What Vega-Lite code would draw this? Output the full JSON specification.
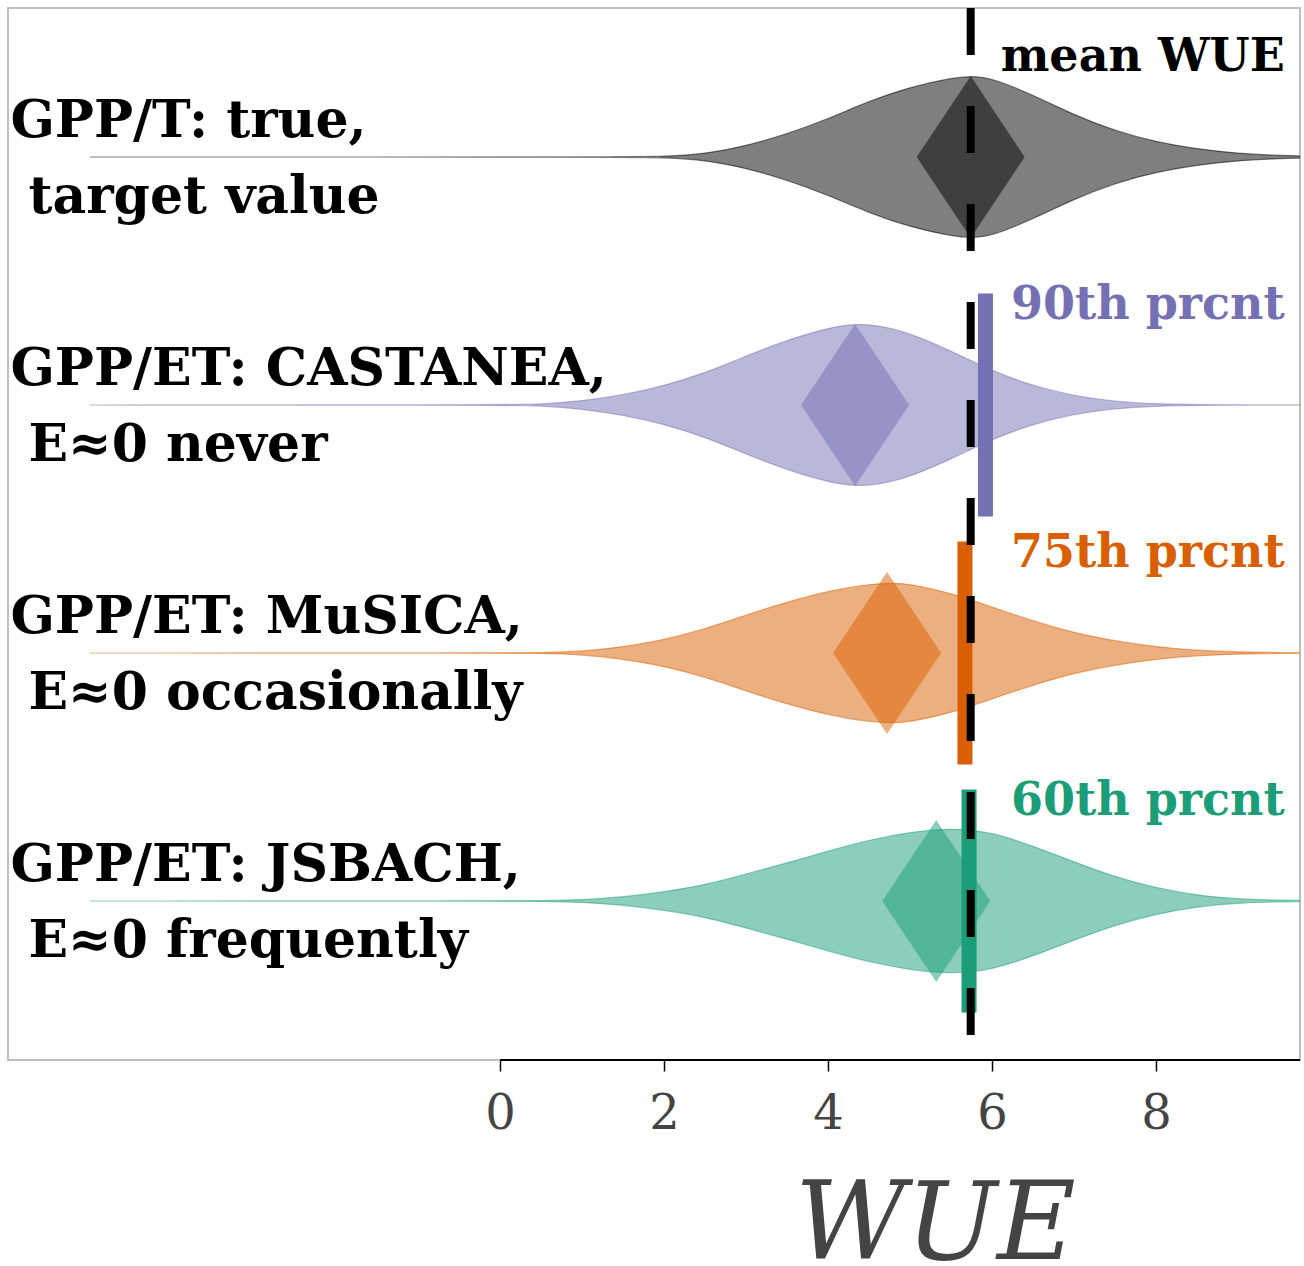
{
  "$schema": "https://vega.github.io/schema/vega-lite/v6.json",
  "width": 1292,
  "height": 1052,
  "autosize": {"type": "none"},
  "padding": {"left": 8, "top": 8, "right": 4, "bottom": 206},
  "background": "white",
  "config": {"view": {"stroke": "#bfbfbf", "strokeWidth": 2}, "font": "DejaVu Serif"},
  "datasets": {
    "violins": [
      {"g": "T", "wue": -5, "dens": 0}, {"g": "T", "wue": 1.5, "dens": 0}, {"g": "T", "wue": 2.0, "dens": 0.005}, {"g": "T", "wue": 2.5, "dens": 0.03}, {"g": "T", "wue": 3.0, "dens": 0.11}, {"g": "T", "wue": 3.5, "dens": 0.23}, {"g": "T", "wue": 4.0, "dens": 0.38}, {"g": "T", "wue": 4.5, "dens": 0.56}, {"g": "T", "wue": 5.0, "dens": 0.70}, {"g": "T", "wue": 5.5, "dens": 0.79}, {"g": "T", "wue": 5.75, "dens": 0.81}, {"g": "T", "wue": 6.0, "dens": 0.79}, {"g": "T", "wue": 6.5, "dens": 0.62}, {"g": "T", "wue": 7.0, "dens": 0.42}, {"g": "T", "wue": 7.5, "dens": 0.26}, {"g": "T", "wue": 8.0, "dens": 0.15}, {"g": "T", "wue": 8.5, "dens": 0.08}, {"g": "T", "wue": 9.0, "dens": 0.035}, {"g": "T", "wue": 9.5, "dens": 0.015}, {"g": "T", "wue": 10.0, "dens": 0.005},
      {"g": "CAS", "wue": -5, "dens": 0}, {"g": "CAS", "wue": 0, "dens": 0.002}, {"g": "CAS", "wue": 0.5, "dens": 0.006}, {"g": "CAS", "wue": 1.0, "dens": 0.04}, {"g": "CAS", "wue": 1.5, "dens": 0.10}, {"g": "CAS", "wue": 2.0, "dens": 0.19}, {"g": "CAS", "wue": 2.5, "dens": 0.32}, {"g": "CAS", "wue": 3.0, "dens": 0.49}, {"g": "CAS", "wue": 3.5, "dens": 0.65}, {"g": "CAS", "wue": 4.0, "dens": 0.77}, {"g": "CAS", "wue": 4.3, "dens": 0.81}, {"g": "CAS", "wue": 4.6, "dens": 0.80}, {"g": "CAS", "wue": 5.0, "dens": 0.72}, {"g": "CAS", "wue": 5.5, "dens": 0.54}, {"g": "CAS", "wue": 6.0, "dens": 0.34}, {"g": "CAS", "wue": 6.5, "dens": 0.19}, {"g": "CAS", "wue": 7.0, "dens": 0.09}, {"g": "CAS", "wue": 7.5, "dens": 0.035}, {"g": "CAS", "wue": 8.0, "dens": 0.01}, {"g": "CAS", "wue": 8.5, "dens": 0.003}, {"g": "CAS", "wue": 9.0, "dens": 0.001}, {"g": "CAS", "wue": 10.0, "dens": 0},
      {"g": "MUS", "wue": -5, "dens": 0}, {"g": "MUS", "wue": 0, "dens": 0.001}, {"g": "MUS", "wue": 0.5, "dens": 0.003}, {"g": "MUS", "wue": 1.0, "dens": 0.015}, {"g": "MUS", "wue": 1.5, "dens": 0.06}, {"g": "MUS", "wue": 2.0, "dens": 0.13}, {"g": "MUS", "wue": 2.5, "dens": 0.24}, {"g": "MUS", "wue": 3.0, "dens": 0.38}, {"g": "MUS", "wue": 3.5, "dens": 0.51}, {"g": "MUS", "wue": 4.0, "dens": 0.62}, {"g": "MUS", "wue": 4.5, "dens": 0.69}, {"g": "MUS", "wue": 4.8, "dens": 0.70}, {"g": "MUS", "wue": 5.0, "dens": 0.69}, {"g": "MUS", "wue": 5.5, "dens": 0.60}, {"g": "MUS", "wue": 6.0, "dens": 0.46}, {"g": "MUS", "wue": 6.5, "dens": 0.32}, {"g": "MUS", "wue": 7.0, "dens": 0.20}, {"g": "MUS", "wue": 7.5, "dens": 0.12}, {"g": "MUS", "wue": 8.0, "dens": 0.06}, {"g": "MUS", "wue": 8.5, "dens": 0.025}, {"g": "MUS", "wue": 9.0, "dens": 0.01}, {"g": "MUS", "wue": 9.5, "dens": 0.004}, {"g": "MUS", "wue": 10.0, "dens": 0.002},
      {"g": "JSB", "wue": -5, "dens": 0}, {"g": "JSB", "wue": 0, "dens": 0.001}, {"g": "JSB", "wue": 0.5, "dens": 0.003}, {"g": "JSB", "wue": 1.0, "dens": 0.01}, {"g": "JSB", "wue": 1.5, "dens": 0.04}, {"g": "JSB", "wue": 2.0, "dens": 0.09}, {"g": "JSB", "wue": 2.5, "dens": 0.16}, {"g": "JSB", "wue": 3.0, "dens": 0.27}, {"g": "JSB", "wue": 3.5, "dens": 0.38}, {"g": "JSB", "wue": 4.0, "dens": 0.50}, {"g": "JSB", "wue": 4.5, "dens": 0.61}, {"g": "JSB", "wue": 5.0, "dens": 0.69}, {"g": "JSB", "wue": 5.5, "dens": 0.73}, {"g": "JSB", "wue": 6.0, "dens": 0.69}, {"g": "JSB", "wue": 6.5, "dens": 0.55}, {"g": "JSB", "wue": 7.0, "dens": 0.39}, {"g": "JSB", "wue": 7.5, "dens": 0.24}, {"g": "JSB", "wue": 8.0, "dens": 0.13}, {"g": "JSB", "wue": 8.5, "dens": 0.055}, {"g": "JSB", "wue": 9.0, "dens": 0.02}, {"g": "JSB", "wue": 9.5, "dens": 0.007}, {"g": "JSB", "wue": 10.0, "dens": 0.003}
    ],
    "stats": [
      {"g": "T", "line1": "GPP/T: true,", "line2": "target value", "mean": 5.74, "tag": "mean WUE"},
      {"g": "CAS", "line1": "GPP/ET: CASTANEA,", "line2": "E\u22480 never", "mean": 4.33, "pct": 5.92, "tag": "90th prcnt"},
      {"g": "MUS", "line1": "GPP/ET: MuSICA,", "line2": "E\u22480 occasionally", "mean": 4.72, "pct": 5.67, "tag": "75th prcnt"},
      {"g": "JSB", "line1": "GPP/ET: JSBACH,", "line2": "E\u22480 frequently", "mean": 5.32, "pct": 5.72, "tag": "60th prcnt"}
    ],
    "ref": [{"mean_wue": 5.74}]
  },
  "resolve": {"scale": {"y": "independent"}},
  "layer": [
    {
      "data": {"name": "violins"},
      "transform": [{"filter": {"field": "g", "equal": "T"}}],
      "mark": {"type": "area", "interpolate": "basis", "clip": true, "fill": "#000000", "fillOpacity": 0.5, "stroke": "#000000", "strokeOpacity": 0.5, "strokeWidth": 1.2},
      "encoding": {
        "x": {"field": "wue", "type": "quantitative", "title": "WUE", "scale": {"domain": [-6, 9.756], "nice": false, "zero": false},
          "axis": {"values": [0, 2, 4, 6, 8], "domain": false, "grid": false, "ticks": true, "tickSize": 11, "tickWidth": 1.5, "tickColor": "#000000", "labelFont": "DejaVu Serif", "labelFontSize": 48, "labelColor": "#444444", "labelBaseline": "alphabetic", "labelPadding": 57, "labelFlush": false, "labelOverlap": false, "title": "WUE", "titleFont": "DejaVu Serif", "titleFontStyle": "italic", "titleFontWeight": "normal", "titleFontSize": 108, "titleColor": "#444444", "titleX": 927, "titleY": 198, "titleBaseline": "alphabetic", "titleAlign": "center"}},
        "y": {"field": "dens", "type": "quantitative", "stack": "center", "scale": {"domain": [-4.11, 1.15], "nice": false, "zero": false}, "axis": null},
        "detail": {"field": "g"}
      }
    },
    {
      "data": {"name": "violins"},
      "transform": [{"filter": {"field": "g", "equal": "CAS"}}],
      "mark": {"type": "area", "interpolate": "basis", "clip": true, "fill": "#7570b3", "fillOpacity": 0.5, "stroke": "#7570b3", "strokeOpacity": 0.5, "strokeWidth": 1.2},
      "encoding": {
        "x": {"field": "wue", "type": "quantitative", "title": "WUE", "scale": {"domain": [-6, 9.756], "nice": false, "zero": false},
          "axis": {"values": [0, 2, 4, 6, 8], "domain": false, "grid": false, "ticks": true, "tickSize": 11, "tickWidth": 1.5, "tickColor": "#000000", "labelFont": "DejaVu Serif", "labelFontSize": 48, "labelColor": "#444444", "labelBaseline": "alphabetic", "labelPadding": 57, "labelFlush": false, "labelOverlap": false, "title": "WUE", "titleFont": "DejaVu Serif", "titleFontStyle": "italic", "titleFontWeight": "normal", "titleFontSize": 108, "titleColor": "#444444", "titleX": 927, "titleY": 198, "titleBaseline": "alphabetic", "titleAlign": "center"}},
        "y": {"field": "dens", "type": "quantitative", "stack": "center", "scale": {"domain": [-2.87, 2.39], "nice": false, "zero": false}, "axis": null},
        "detail": {"field": "g"}
      }
    },
    {
      "data": {"name": "violins"},
      "transform": [{"filter": {"field": "g", "equal": "MUS"}}],
      "mark": {"type": "area", "interpolate": "basis", "clip": true, "fill": "#d95f02", "fillOpacity": 0.5, "stroke": "#d95f02", "strokeOpacity": 0.5, "strokeWidth": 1.2},
      "encoding": {
        "x": {"field": "wue", "type": "quantitative", "title": "WUE", "scale": {"domain": [-6, 9.756], "nice": false, "zero": false},
          "axis": {"values": [0, 2, 4, 6, 8], "domain": false, "grid": false, "ticks": true, "tickSize": 11, "tickWidth": 1.5, "tickColor": "#000000", "labelFont": "DejaVu Serif", "labelFontSize": 48, "labelColor": "#444444", "labelBaseline": "alphabetic", "labelPadding": 57, "labelFlush": false, "labelOverlap": false, "title": "WUE", "titleFont": "DejaVu Serif", "titleFontStyle": "italic", "titleFontWeight": "normal", "titleFontSize": 108, "titleColor": "#444444", "titleX": 927, "titleY": 198, "titleBaseline": "alphabetic", "titleAlign": "center"}},
        "y": {"field": "dens", "type": "quantitative", "stack": "center", "scale": {"domain": [-1.685, 3.575], "nice": false, "zero": false}, "axis": null},
        "detail": {"field": "g"}
      }
    },
    {
      "data": {"name": "violins"},
      "transform": [{"filter": {"field": "g", "equal": "JSB"}}],
      "mark": {"type": "area", "interpolate": "basis", "clip": true, "fill": "#1b9e77", "fillOpacity": 0.5, "stroke": "#1b9e77", "strokeOpacity": 0.5, "strokeWidth": 1.2},
      "encoding": {
        "x": {"field": "wue", "type": "quantitative", "title": "WUE", "scale": {"domain": [-6, 9.756], "nice": false, "zero": false},
          "axis": {"values": [0, 2, 4, 6, 8], "domain": false, "grid": false, "ticks": true, "tickSize": 11, "tickWidth": 1.5, "tickColor": "#000000", "labelFont": "DejaVu Serif", "labelFontSize": 48, "labelColor": "#444444", "labelBaseline": "alphabetic", "labelPadding": 57, "labelFlush": false, "labelOverlap": false, "title": "WUE", "titleFont": "DejaVu Serif", "titleFontStyle": "italic", "titleFontWeight": "normal", "titleFontSize": 108, "titleColor": "#444444", "titleX": 927, "titleY": 198, "titleBaseline": "alphabetic", "titleAlign": "center"}},
        "y": {"field": "dens", "type": "quantitative", "stack": "center", "scale": {"domain": [-0.43, 4.83], "nice": false, "zero": false}, "axis": null},
        "detail": {"field": "g"}
      }
    },
    {
      "layer": [
        {
          "data": {"name": "stats"},
          "mark": {"type": "point", "shape": "M-1,0L0,-1.5L1,0L0,1.5Z", "size": 11664, "filled": true, "opacity": 0.5, "strokeWidth": 0},
          "encoding": {
            "x": {"field": "mean", "type": "quantitative", "title": "WUE", "scale": {"domain": [-6, 9.756], "nice": false, "zero": false},
              "axis": {"values": [0, 2, 4, 6, 8], "domain": false, "grid": false, "ticks": true, "tickSize": 11, "tickWidth": 1.5, "tickColor": "#000000", "labelFont": "DejaVu Serif", "labelFontSize": 48, "labelColor": "#444444", "labelBaseline": "alphabetic", "labelPadding": 57, "labelFlush": false, "labelOverlap": false, "title": "WUE", "titleFont": "DejaVu Serif", "titleFontStyle": "italic", "titleFontWeight": "normal", "titleFontSize": 108, "titleColor": "#444444", "titleX": 927, "titleY": 198, "titleBaseline": "alphabetic", "titleAlign": "center"}},
            "y": {"field": "g", "type": "nominal", "scale": {"type": "point", "domain": ["T", "CAS", "MUS", "JSB"], "padding": 0.621, "align": 0.4838}, "axis": null},
            "color": {"field": "g", "type": "nominal", "scale": {"domain": ["T", "CAS", "MUS", "JSB"], "range": ["#000000", "#7570b3", "#d95f02", "#1b9e77"]}, "legend": null}
          }
        },
        {
          "data": {"name": "stats"},
          "transform": [{"filter": {"field": "pct", "valid": true}}],
          "mark": {"type": "tick", "orient": "vertical", "size": 223, "thickness": 15, "opacity": 1},
          "encoding": {
            "x": {"field": "pct", "type": "quantitative", "title": "WUE", "scale": {"domain": [-6, 9.756], "nice": false, "zero": false},
              "axis": {"values": [0, 2, 4, 6, 8], "domain": false, "grid": false, "ticks": true, "tickSize": 11, "tickWidth": 1.5, "tickColor": "#000000", "labelFont": "DejaVu Serif", "labelFontSize": 48, "labelColor": "#444444", "labelBaseline": "alphabetic", "labelPadding": 57, "labelFlush": false, "labelOverlap": false, "title": "WUE", "titleFont": "DejaVu Serif", "titleFontStyle": "italic", "titleFontWeight": "normal", "titleFontSize": 108, "titleColor": "#444444", "titleX": 927, "titleY": 198, "titleBaseline": "alphabetic", "titleAlign": "center"}},
            "y": {"field": "g", "type": "nominal", "scale": {"type": "point", "domain": ["T", "CAS", "MUS", "JSB"], "padding": 0.621, "align": 0.4838}, "axis": null},
            "color": {"field": "g", "type": "nominal", "scale": {"domain": ["T", "CAS", "MUS", "JSB"], "range": ["#000000", "#7570b3", "#d95f02", "#1b9e77"]}, "legend": null}
          }
        },
        {
          "data": {"name": "ref"},
          "mark": {"type": "rule", "strokeDash": [47, 51], "strokeWidth": 8, "color": "#000000"},
          "encoding": {
            "x": {"field": "mean_wue", "type": "quantitative", "title": "WUE", "scale": {"domain": [-6, 9.756], "nice": false, "zero": false},
              "axis": {"values": [0, 2, 4, 6, 8], "domain": false, "grid": false, "ticks": true, "tickSize": 11, "tickWidth": 1.5, "tickColor": "#000000", "labelFont": "DejaVu Serif", "labelFontSize": 48, "labelColor": "#444444", "labelBaseline": "alphabetic", "labelPadding": 57, "labelFlush": false, "labelOverlap": false, "title": "WUE", "titleFont": "DejaVu Serif", "titleFontStyle": "italic", "titleFontWeight": "normal", "titleFontSize": 108, "titleColor": "#444444", "titleX": 927, "titleY": 198, "titleBaseline": "alphabetic", "titleAlign": "center"}}
          }
        },
        {
          "data": {"name": "stats"},
          "mark": {"type": "text", "align": "left", "baseline": "alphabetic", "dy": -20, "font": "DejaVu Serif", "fontWeight": "bold", "fontSize": 52, "color": "#000000"},
          "encoding": {
            "x": {"datum": -5.97, "type": "quantitative", "title": "WUE", "scale": {"domain": [-6, 9.756], "nice": false, "zero": false},
              "axis": {"values": [0, 2, 4, 6, 8], "domain": false, "grid": false, "ticks": true, "tickSize": 11, "tickWidth": 1.5, "tickColor": "#000000", "labelFont": "DejaVu Serif", "labelFontSize": 48, "labelColor": "#444444", "labelBaseline": "alphabetic", "labelPadding": 57, "labelFlush": false, "labelOverlap": false, "title": "WUE", "titleFont": "DejaVu Serif", "titleFontStyle": "italic", "titleFontWeight": "normal", "titleFontSize": 108, "titleColor": "#444444", "titleX": 927, "titleY": 198, "titleBaseline": "alphabetic", "titleAlign": "center"}},
            "y": {"field": "g", "type": "nominal", "scale": {"type": "point", "domain": ["T", "CAS", "MUS", "JSB"], "padding": 0.621, "align": 0.4838}, "axis": null},
            "text": {"field": "line1"}
          }
        },
        {
          "data": {"name": "stats"},
          "mark": {"type": "text", "align": "left", "baseline": "alphabetic", "dx": 18, "dy": 56, "font": "DejaVu Serif", "fontWeight": "bold", "fontSize": 52, "color": "#000000"},
          "encoding": {
            "x": {"datum": -5.97, "type": "quantitative", "title": "WUE", "scale": {"domain": [-6, 9.756], "nice": false, "zero": false},
              "axis": {"values": [0, 2, 4, 6, 8], "domain": false, "grid": false, "ticks": true, "tickSize": 11, "tickWidth": 1.5, "tickColor": "#000000", "labelFont": "DejaVu Serif", "labelFontSize": 48, "labelColor": "#444444", "labelBaseline": "alphabetic", "labelPadding": 57, "labelFlush": false, "labelOverlap": false, "title": "WUE", "titleFont": "DejaVu Serif", "titleFontStyle": "italic", "titleFontWeight": "normal", "titleFontSize": 108, "titleColor": "#444444", "titleX": 927, "titleY": 198, "titleBaseline": "alphabetic", "titleAlign": "center"}},
            "y": {"field": "g", "type": "nominal", "scale": {"type": "point", "domain": ["T", "CAS", "MUS", "JSB"], "padding": 0.621, "align": 0.4838}, "axis": null},
            "text": {"field": "line2"}
          }
        },
        {
          "data": {"name": "stats"},
          "mark": {"type": "text", "align": "right", "baseline": "alphabetic", "dy": -86, "font": "DejaVu Serif", "fontWeight": "bold", "fontSize": 46},
          "encoding": {
            "x": {"datum": 9.57, "type": "quantitative", "title": "WUE", "scale": {"domain": [-6, 9.756], "nice": false, "zero": false},
              "axis": {"values": [0, 2, 4, 6, 8], "domain": false, "grid": false, "ticks": true, "tickSize": 11, "tickWidth": 1.5, "tickColor": "#000000", "labelFont": "DejaVu Serif", "labelFontSize": 48, "labelColor": "#444444", "labelBaseline": "alphabetic", "labelPadding": 57, "labelFlush": false, "labelOverlap": false, "title": "WUE", "titleFont": "DejaVu Serif", "titleFontStyle": "italic", "titleFontWeight": "normal", "titleFontSize": 108, "titleColor": "#444444", "titleX": 927, "titleY": 198, "titleBaseline": "alphabetic", "titleAlign": "center"}},
            "y": {"field": "g", "type": "nominal", "scale": {"type": "point", "domain": ["T", "CAS", "MUS", "JSB"], "padding": 0.621, "align": 0.4838}, "axis": null},
            "text": {"field": "tag"},
            "color": {"field": "g", "type": "nominal", "scale": {"domain": ["T", "CAS", "MUS", "JSB"], "range": ["#000000", "#7570b3", "#d95f02", "#1b9e77"]}, "legend": null}
          }
        },
        {
          "data": {"name": "ref"},
          "mark": {"type": "rule", "strokeWidth": 2, "color": "#000000"},
          "encoding": {
            "x": {"datum": 0, "type": "quantitative", "title": "WUE", "scale": {"domain": [-6, 9.756], "nice": false, "zero": false},
              "axis": {"values": [0, 2, 4, 6, 8], "domain": false, "grid": false, "ticks": true, "tickSize": 11, "tickWidth": 1.5, "tickColor": "#000000", "labelFont": "DejaVu Serif", "labelFontSize": 48, "labelColor": "#444444", "labelBaseline": "alphabetic", "labelPadding": 57, "labelFlush": false, "labelOverlap": false, "title": "WUE", "titleFont": "DejaVu Serif", "titleFontStyle": "italic", "titleFontWeight": "normal", "titleFontSize": 108, "titleColor": "#444444", "titleX": 927, "titleY": 198, "titleBaseline": "alphabetic", "titleAlign": "center"}},
            "x2": {"datum": 9.756},
            "y": {"value": "height"}
          }
        }
      ]
    }
  ]
}
